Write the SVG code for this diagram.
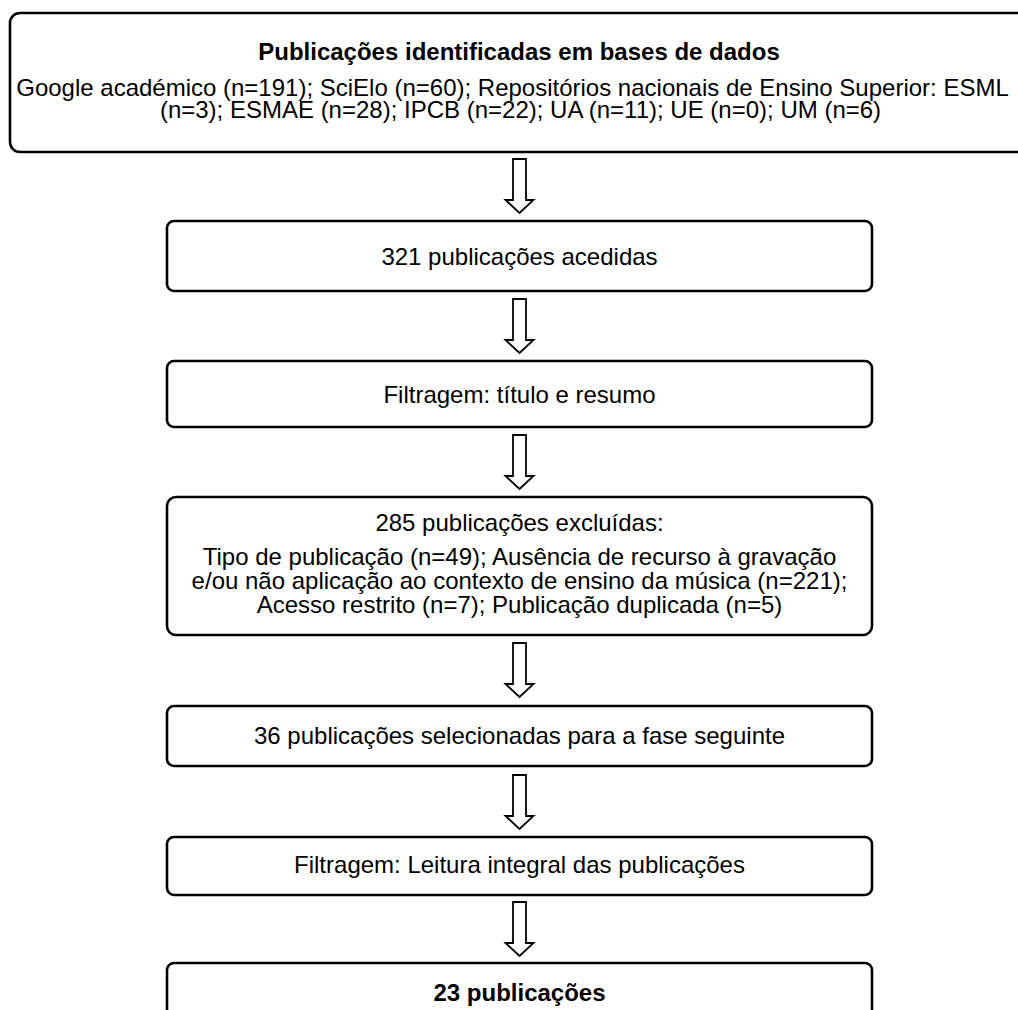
<svg xmlns="http://www.w3.org/2000/svg" width="1018" height="1010" viewBox="0 0 1018 1010">
<style>
.box{fill:#fff;stroke:#000;stroke-width:2.6}
.arr{fill:#fff;stroke:#000;stroke-width:1.8;stroke-linejoin:miter}
text{font-family:"Liberation Sans",Arial,sans-serif;font-size:24px;fill:#000;text-anchor:middle}
.b{font-weight:bold}
</style>
<rect width="1018" height="1010" fill="#fff"/>
<defs>
<path id="blockArrow" class="arr" d="M-6.5,0 H6.5 V41 H14 L0,54 L-14,41 H-6.5 Z"/>
</defs>
<g id="n1">
<rect class="box" x="10" y="13" width="1030" height="139" rx="10"/>
<text class="b" x="519" y="60">Publicações identificadas em bases de dados</text>
<text x="512.5" y="96">Google académico (n=191); SciElo (n=60); Repositórios nacionais de Ensino Superior: ESML</text>
<text x="520.5" y="118">(n=3); ESMAE (n=28); IPCB (n=22); UA (n=11); UE (n=0); UM (n=6)</text>
</g>
<g id="n2">
<rect class="box" x="167" y="221" width="705" height="70" rx="7"/>
<text x="519.5" y="265">321 publicações acedidas</text>
</g>
<g id="n3">
<rect class="box" x="167" y="361" width="705" height="66" rx="7"/>
<text x="519.5" y="403">Filtragem: título e resumo</text>
</g>
<g id="n4">
<rect class="box" x="167" y="497" width="705" height="138" rx="9"/>
<text x="519.5" y="531">285 publicações excluídas:</text>
<text x="519.5" y="565">Tipo de publicação (n=49); Ausência de recurso à gravação</text>
<text x="519.5" y="589">e/ou não aplicação ao contexto de ensino da música (n=221);</text>
<text x="519.5" y="613">Acesso restrito (n=7); Publicação duplicada (n=5)</text>
</g>
<g id="n5">
<rect class="box" x="167" y="706" width="705" height="60" rx="7"/>
<text x="519.5" y="744">36 publicações selecionadas para a fase seguinte</text>
</g>
<g id="n6">
<rect class="box" x="167" y="837" width="705" height="58" rx="7"/>
<text x="519.5" y="873">Filtragem: Leitura integral das publicações</text>
</g>
<g id="n7">
<rect class="box" x="167" y="963" width="705" height="70" rx="7"/>
<text class="b" x="519.5" y="1001">23 publicações</text>
</g>
<g id="connectors">
<use href="#blockArrow" x="519.5" y="159"/>
<use href="#blockArrow" x="519.5" y="299"/>
<use href="#blockArrow" x="519.5" y="435"/>
<use href="#blockArrow" x="519.5" y="643"/>
<use href="#blockArrow" x="519.5" y="775"/>
<use href="#blockArrow" x="519.5" y="902"/>
</g>
</svg>
